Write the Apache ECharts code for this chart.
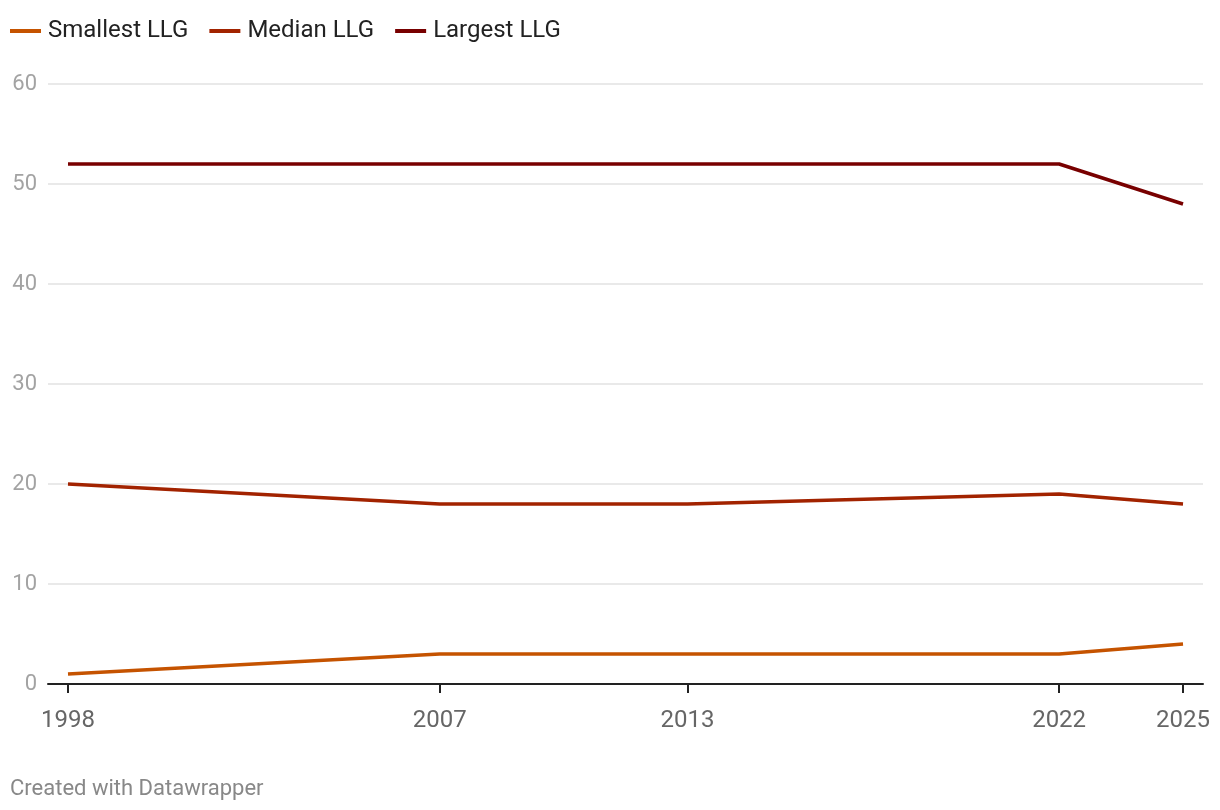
<!DOCTYPE html>
<html>
<head>
<meta charset="utf-8">
<script src="https://cdn.jsdelivr.net/npm/echarts@6/dist/echarts.min.js"></script>
<style>
html,body{margin:0;padding:0;background:#fff;}
#c{width:1220px;height:810px;}
</style>
</head>
<body>
<div id="c"></div>
<script>
const years = [1998, 2007, 2013, 2022, 2025];
const smallest = [1, 3, 3, 3, 4];
const median = [20, 18, 18, 19, 18];
const largest = [52, 52, 52, 52, 48];
const yTicks = [0, 10, 20, 30, 40, 50, 60];

const pairs = v => years.map((y, i) => [y, v[i]]);
const chart = echarts.init(document.getElementById('c'));
const font = 'Roboto, "Noto Sans", sans-serif';
chart.setOption({
  animation: false,
  textStyle: {fontFamily: font},
  legend: {
    left: 10, top: 19, padding: 0, itemWidth: 31, itemHeight: 4, itemGap: 21, icon: 'rect',
    textStyle: {fontSize: 24, color: '#222', fontFamily: font, padding: [0, 0, 0, 2]},
    data: ['Smallest LLG', 'Median LLG', 'Largest LLG']
  },
  grid: {left: 48, right: 17, top: 84, bottom: 126, containLabel: false},
  xAxis: {
    type: 'value', min: 1997.516, max: 2025.484,
    splitLine: {show: false},
    axisLine: {show: true, lineStyle: {color: '#222', width: 2}},
    axisTick: {show: true, length: 9, lineStyle: {color: '#222', width: 2}, customValues: years},
    axisLabel: {customValues: years, fontSize: 24, color: '#666', margin: 25, fontFamily: font, formatter: v => String(v)}
  },
  yAxis: {
    type: 'value', min: 0, max: 60, interval: 10,
    axisLine: {show: false}, axisTick: {show: false},
    splitLine: {lineStyle: {color: '#e2e2e2', width: 1.5}},
    axisLabel: {fontSize: 22, color: '#a3a3a3', margin: 11, fontFamily: font}
  },
  series: [
    {name: 'Smallest LLG', type: 'line', data: pairs(smallest), symbol: 'none', lineStyle: {width: 3.5, color: '#c55300'}, itemStyle: {color: '#c55300'}, z: 3},
    {name: 'Median LLG', type: 'line', data: pairs(median), symbol: 'none', lineStyle: {width: 3.5, color: '#a22300'}, itemStyle: {color: '#a22300'}, z: 3},
    {name: 'Largest LLG', type: 'line', data: pairs(largest), symbol: 'none', lineStyle: {width: 3.5, color: '#780000'}, itemStyle: {color: '#780000'}, z: 3}
  ],
  graphic: [{
    type: 'text', left: 10, top: 778,
    style: {text: 'Created with Datawrapper', fontSize: 22, fill: '#888', fontFamily: font}
  }]
});
</script>
</body>
</html>
